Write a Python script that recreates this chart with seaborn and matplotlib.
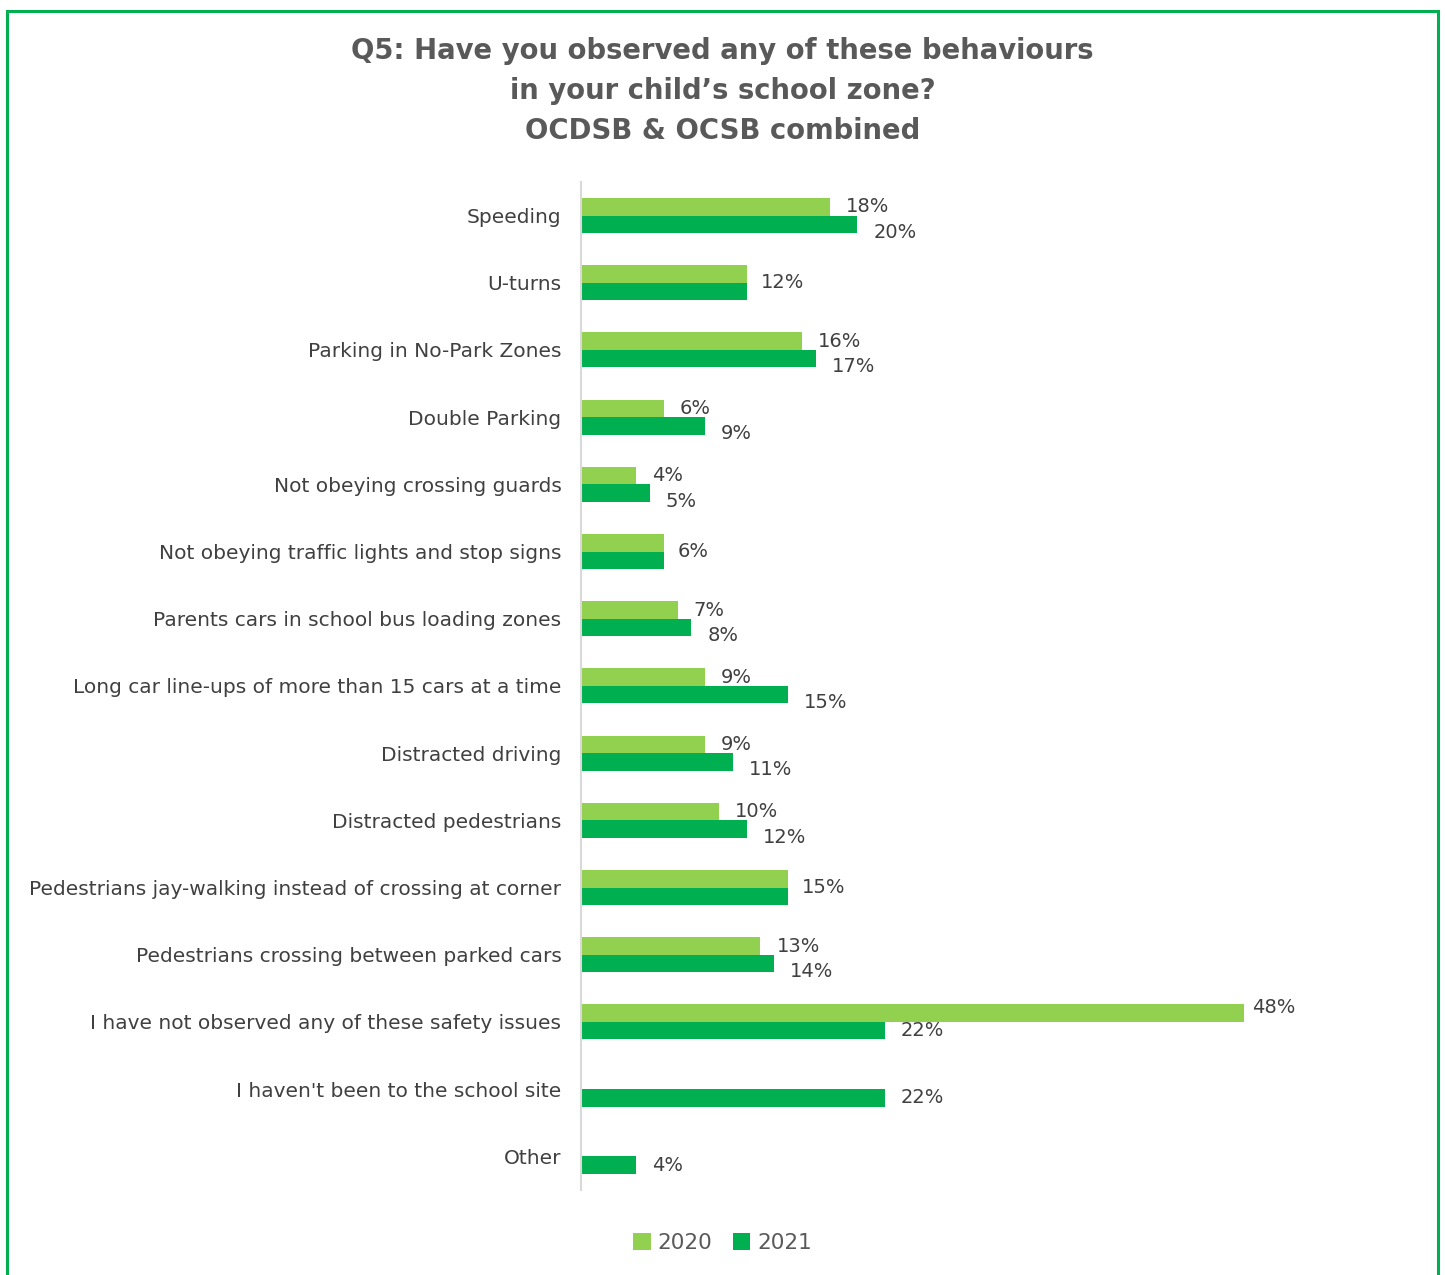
import numpy as np
import pandas as pd
import matplotlib
matplotlib.use("Agg")
import matplotlib.pyplot as plt
import seaborn as sns
from matplotlib.patches import Rectangle

categories = [
    "Speeding",
    "U-turns",
    "Parking in No-Park Zones",
    "Double Parking",
    "Not obeying crossing guards",
    "Not obeying traffic lights and stop signs",
    "Parents cars in school bus loading zones",
    "Long car line-ups of more than 15 cars at a time",
    "Distracted driving",
    "Distracted pedestrians",
    "Pedestrians jay-walking instead of crossing at corner",
    "Pedestrians crossing between parked cars",
    "I have not observed any of these safety issues",
    "I haven't been to the school site",
    "Other",
]
values_2020 = [18, 12, 16, 6, 4, 6, 7, 9, 9, 10, 15, 13, 48, np.nan, np.nan]
values_2021 = [20, 12, 17, 9, 5, 6, 8, 15, 11, 12, 15, 14, 22, 22, 4]
years = ["2020", "2021"]
title_lines = ["Q5: Have you observed any of these behaviours",
               "in your child\u2019s school zone?",
               "OCDSB & OCSB combined"]

c2020 = "#92D050"
c2021 = "#00B050"
label_col = "#404040"
title_col = "#595959"

df = pd.DataFrame({
    "category": categories * 2,
    "year": [years[0]] * len(categories) + [years[1]] * len(categories),
    "value": list(values_2020) + list(values_2021),
})

sns.set_theme(style="white")
plt.rcParams["font.family"] = ["DejaVu Sans"]

fig = plt.figure(figsize=(14.45, 12.75), dpi=100)
ax = fig.add_axes([0.402, 0.0667, 0.478, 0.7906])

sns.barplot(data=df, y="category", x="value", hue="year", order=categories,
            hue_order=years, palette=[c2020, c2021], orient="h",
            width=0.52, ax=ax, legend=True, saturation=1, errorbar=None,
            linewidth=0)

ax.set_xlim(0, 50)
ax.set_ylim(len(categories) - 0.5, -0.5)
ax.set_xlabel("")
ax.set_ylabel("")
ax.set_xticks([])
for s in ["top", "right", "bottom"]:
    ax.spines[s].set_visible(False)
ax.spines["left"].set_color("#D9D9D9")
ax.spines["left"].set_linewidth(1.5)
ax.tick_params(axis="y", length=0, pad=14, labelsize=14.5, labelcolor=label_col)

# data labels
pts = 72 / 100.0
fs = 14
bars20 = {int(round(b.get_y() + b.get_height() / 2)): b for b in ax.containers[0] if b.get_width() > 0}
bars21 = {int(round(b.get_y() + b.get_height() / 2)): b for b in ax.containers[1] if b.get_width() > 0}
for i in range(len(categories)):
    b0 = bars20.get(i)
    b1 = bars21.get(i)
    if b0 is not None and b1 is not None and b0.get_width() == b1.get_width():
        w = b0.get_width()
        ax.annotate(f"{w:.0f}%", (w, i), xytext=(14 * pts, 0), textcoords="offset points",
                    va="center", ha="left", fontsize=fs, color=label_col)
        continue
    if b0 is not None:
        w = b0.get_width()
        yc = b0.get_y() + b0.get_height() / 2
        dy = -6 if (b1 is not None and w - b1.get_width() > 6) else 0
        dx = 8 if dy else 16
        ax.annotate(f"{w:.0f}%", (w, yc), xytext=(dx * pts, -dy * pts), textcoords="offset points",
                    va="center", ha="left", fontsize=fs, color=label_col)
    if b1 is not None:
        w = b1.get_width()
        yc = b1.get_y() + b1.get_height() / 2
        dy = 8 if (b0 is not None and abs(w - b0.get_width()) <= 6) else 0
        ax.annotate(f"{w:.0f}%", (w, yc), xytext=(16 * pts, -dy * pts), textcoords="offset points",
                    va="center", ha="left", fontsize=fs, color=label_col)

# legend
handles, labels = ax.get_legend_handles_labels()
ax.legend_.remove()
fig.legend(handles, labels, loc="center", bbox_to_anchor=(0.5, 1 - 1243 / 1275), ncol=2,
           frameon=False, fontsize=15.5, labelcolor=title_col, handlelength=0.8, handleheight=0.8,
           handletextpad=0.3, columnspacing=1.0)

# title
fig.text(0.5, 1 - 91 / 1275, "\n".join(title_lines), ha="center", va="center",
         fontsize=19.8, fontweight="bold", color=title_col, linespacing=1.55)

# border
fig.patches.append(Rectangle((7 / 1445, -0.02), (1438 - 7) / 1445, 1.02 - 11 / 1275,
                             transform=fig.transFigure, fill=False, edgecolor="#00B050",
                             linewidth=2.2, zorder=0))

fig.savefig("out.png", dpi=100, facecolor="white")
